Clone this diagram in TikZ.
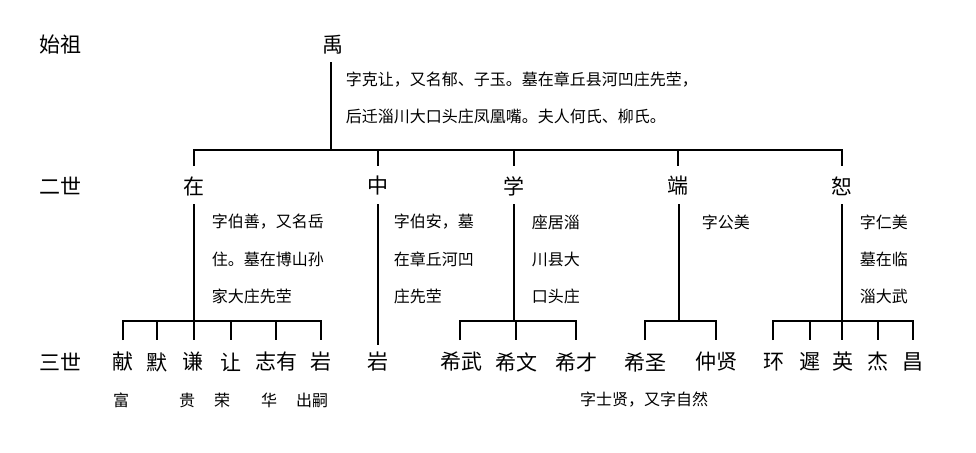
\documentclass[tikz,border=0pt]{standalone}
\usepackage{fontspec}
\setmainfont{Noto Sans CJK SC}
\begin{document}
\begin{tikzpicture}[x=1pt,y=-1pt,line width=1.6pt,
  big/.style={inner sep=0pt,font=\fontsize{21}{21}\selectfont},
  note/.style={inner sep=0pt,anchor=west,font=\fontsize{16}{16}\selectfont},
  sm/.style={inner sep=0pt,font=\fontsize{16}{16}\selectfont}]
\useasboundingbox (0,0) rectangle (976,452);
\fill[white] (0,0) rectangle (976,452);
% labels
\node[big] (g1) at (60,45) {始祖};
\node[big] (g2) at (60,186) {二世};
\node[big] (g3) at (60,362) {三世};
% gen 1
\node[big] (yu) at (333,45) {禹};
\node[note] (yun1) at (345,80) {字克让，又名郁、子玉。墓在章丘县河凹庄先茔，};
\node[note] (yun2) at (345,116) {后迁淄川大口头庄凤凰嘴。夫人何氏、柳氏。};
\coordinate (yb) at (331,150);
\draw (331,62) -- (yb);
% gen 2
\foreach \n/\t/\x in {zai/在/194,zhong/中/378,xue/学/514,duan/端/678,shu/恕/842}{
  \node[big] (\n) at (\x,186) {\t};
}
\draw (194,166) -- (194,150) -- (842,150) -- (842,166);
\foreach \x in {378,514,678} \draw (\x,150) -- (\x,166);
% notes gen2
\node[note] at (211,222) {字伯善，又名岳};
\node[note] at (211,259) {住。墓在博山孙};
\node[note] at (211,296) {家大庄先茔};
\node[note] at (393,222) {字伯安，墓};
\node[note] at (393,259) {在章丘河凹};
\node[note] at (393,296) {庄先茔};
\node[note] at (531,222) {座居淄};
\node[note] at (531,259) {川县大};
\node[note] at (531,296) {口头庄};
\node[note] at (701,222) {字公美};
\node[note] at (859,222) {字仁美};
\node[note] at (859,259) {墓在临};
\node[note] at (859,296) {淄大武};
% gen3 names
\foreach \n/\t/\x in {a1/献/123,a2/默/157,a3/谦/193,a4/让/231,a5/志有/276,a6/岩/321,
  b1/岩/378,c1/希武/461,c2/希文/516,c3/希才/576,d1/希圣/645,d2/仲贤/716,
  e1/环/774,e2/遲/810,e3/英/843,e4/杰/878,e5/昌/913}{
  \node[big] (\n) at (\x,362) {\t};
}
% gen3 connectors
\draw (194,204) -- (194,340);
\draw (123,340) -- (123,321) -- (321,321) -- (321,340);
\foreach \x in {157,231,276} \draw (\x,321) -- (\x,340);
\draw (378,204) -- (378,345);
\draw (514,204) -- (514,321);
\draw (460,340) -- (460,321) -- (576,321) -- (576,340);
\draw (516,321) -- (516,340);
\draw (679,204) -- (679,321);
\draw (645,340) -- (645,321) -- (716,321) -- (716,340);
\draw (842,204) -- (842,340);
\draw (773,340) -- (773,321) -- (913,321) -- (913,340);
\foreach \x in {810,878} \draw (\x,321) -- (\x,340);
% bottom notes
\node[sm] at (121,400) {富};
\node[sm] at (187,400) {贵};
\node[sm] at (222,400) {荣};
\node[sm] at (269,400) {华};
\node[sm] at (312,400) {出嗣};
\node[sm] at (644,400) {字士贤，又字自然};
\end{tikzpicture}
\end{document}
